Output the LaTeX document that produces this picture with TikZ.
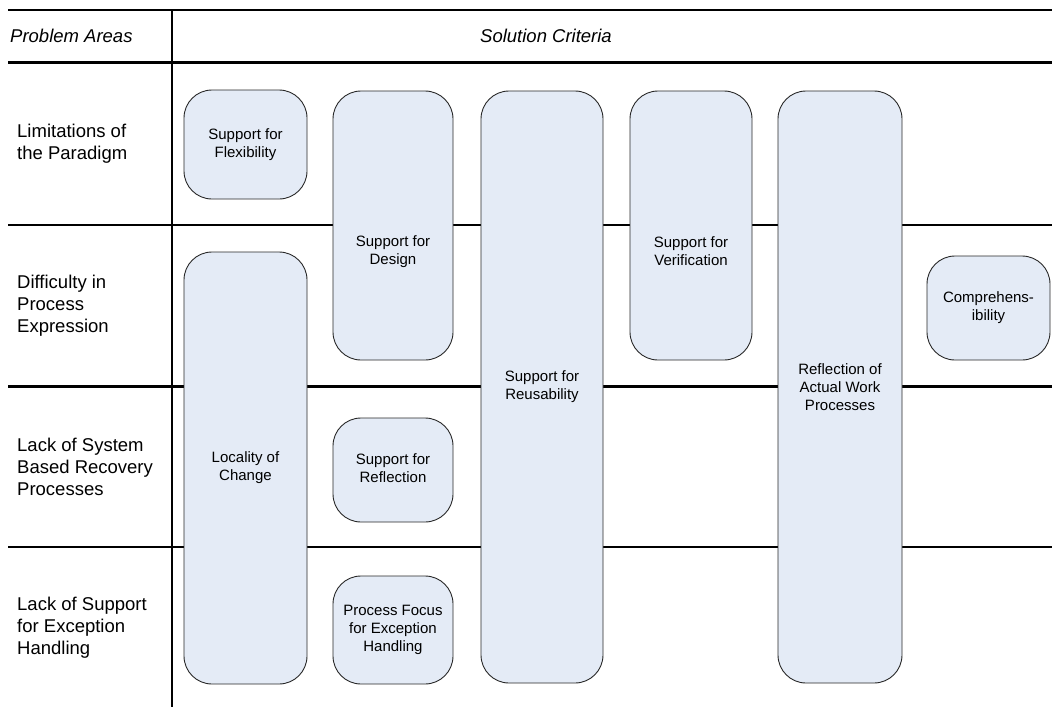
\documentclass[tikz,border=0pt]{standalone}
\usepackage{fontspec}
\setmainfont{Liberation Sans}
\usetikzlibrary{calc}
\definecolor{critfill}{RGB}{228,235,246}
\definecolor{critline}{RGB}{40,40,40}
\tikzset{
  grid/.style={line width=2.2pt, black},
  crit/.style={draw=critline, fill=critfill, line width=0.9pt, rounded corners=28pt,
    rectangle, inner sep=0pt, align=center, font=\fontsize{15}{18}\selectfont},
  critlabel/.style={align=center, font=\fontsize{15}{18}\selectfont, inner sep=0pt},
  area/.style={anchor=west, align=left, font=\fontsize{18.5}{22}\selectfont, inner sep=0pt},
  head/.style={font=\fontsize{18.5}{22}\selectfont\itshape, inner sep=0pt}
}
\begin{document}
\begin{tikzpicture}[x=1pt,y=-1pt]
\useasboundingbox (0,0) rectangle (1052,707);

% table frame
\coordinate (tl) at (8,10);   \coordinate (tr) at (1052,10);
\coordinate (hl) at (8,62.5); \coordinate (hr) at (1052,62.5);
\coordinate (r1l) at (8,225); \coordinate (r1r) at (1052,225);
\coordinate (r2l) at (8,386.5); \coordinate (r2r) at (1052,386.5);
\coordinate (r3l) at (8,547); \coordinate (r3r) at (1052,547);
\coordinate (vt) at (172,10); \coordinate (vb) at (172,707);
\draw[grid] (tl) -- (tr);
\draw[grid] (hl) -- (hr);
\draw[grid] (r1l) -- (r1r);
\draw[grid] (r2l) -- (r2r);
\draw[grid] (r3l) -- (r3r);
\draw[grid] (vt) -- (vb);

% headings
\node[head, anchor=west] (hpa) at (10,36) {Problem Areas};
\node[head] (hsc) at (546,36) {Solution Criteria};

% problem areas
\node[area] (pa1) at (17,143.5) {Limitations of\\the Paradigm};
\node[area] (pa2) at (17,306) {Difficulty in\\Process\\Expression};
\node[area] (pa3) at (17,467) {Lack of System\\Based Recovery\\Processes};
\node[area] (pa4) at (17,628) {Lack of Support\\for Exception\\Handling};

% solution criteria
\node[crit, minimum width=123, minimum height=109] (flex) at (245.5,144.5) {Support for\\Flexibility};
\node[crit, minimum width=120, minimum height=269] (design) at (393,225.5) {};
\node[critlabel] (designtxt) at ($(design.center)+(0,26)$) {Support for\\Design};
\node[crit, minimum width=122, minimum height=592] (reuse) at (542,387) {Support for\\Reusability};
\node[crit, minimum width=122, minimum height=269] (verif) at (691,225.5) {};
\node[critlabel] (veriftxt) at ($(verif.center)+(0,26)$) {Support for\\Verification};
\node[crit, minimum width=124, minimum height=592] (actual) at (840,387) {Reflection of\\Actual Work\\Processes};
\node[crit, minimum width=123, minimum height=104] (comp) at (988.5,308) {Comprehens-\\ibility};
\node[crit, minimum width=123, minimum height=432] (local) at (245.5,468) {Locality of\\Change};
\node[crit, minimum width=120, minimum height=104] (reflect) at (393,470) {};
\node[critlabel] (reflecttxt) at ($(reflect.center)+(0,-2)$) {Support for\\Reflection};
\node[crit, minimum width=120, minimum height=108] (focus) at (393,630) {Process Focus\\for Exception\\Handling};
\end{tikzpicture}
\end{document}
